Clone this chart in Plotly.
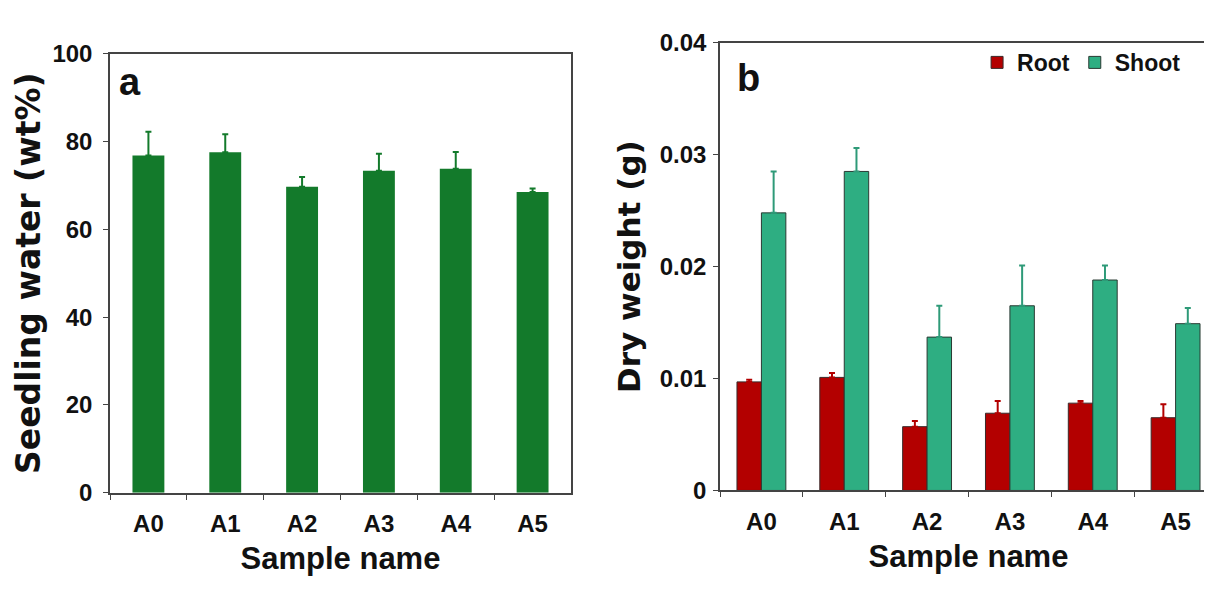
import plotly.graph_objects as go

# ---------------- data ----------------
samples = ["A0", "A1", "A2", "A3", "A4", "A5"]

water_mean = [76.8, 77.5, 69.7, 73.3, 73.8, 68.5]
water_err = [5.4, 4.1, 2.2, 3.9, 3.8, 0.8]

root_mean = [0.0097, 0.0101, 0.0057, 0.0069, 0.0078, 0.0065]
root_err = [0.0002, 0.0004, 0.0005, 0.0011, 0.0002, 0.0012]

shoot_mean = [0.0248, 0.0285, 0.0137, 0.0165, 0.0188, 0.0149]
shoot_err = [0.0037, 0.0021, 0.0028, 0.0036, 0.0013, 0.0014]

W, H = 1212, 601

def xd(a, b):
    return [a / W, b / W]

def yd(top, bottom):
    return [(H - bottom) / H, (H - top) / H]

TICKFONT = dict(family="Liberation Sans, Arial", size=24, color="#111", weight="bold")
XTITLEFONT = dict(family="Liberation Sans, Arial", size=31, color="#111", weight="bold")
YTITLEFONT_A = dict(family="DejaVu Sans", size=33, color="#111", weight="bold")
YTITLEFONT_B = dict(family="DejaVu Sans", size=31, color="#111", weight="bold")

fig = go.Figure()

fig.add_trace(go.Bar(
    x=samples, y=water_mean, width=0.415, xaxis="x", yaxis="y",
    marker=dict(color="#137a2b", line=dict(width=0)),
    error_y=dict(type="data", symmetric=False, array=water_err,
                 arrayminus=[0] * len(water_err), color="#137a2b", thickness=2, width=3),
    showlegend=False,
))

fig.add_trace(go.Bar(
    x=samples, y=root_mean, width=0.295, offset=-0.295, xaxis="x2", yaxis="y2",
    name="Root",
    marker=dict(color="#b30000", line=dict(width=1, color="#3a2a2a")),
    error_y=dict(type="data", symmetric=False, array=root_err,
                 arrayminus=[0] * len(root_err), color="#b30000", thickness=2, width=3),
))
fig.add_trace(go.Bar(
    x=samples, y=shoot_mean, width=0.295, offset=0, xaxis="x2", yaxis="y2",
    name="Shoot",
    marker=dict(color="#2eae82", line=dict(width=1, color="#2a3a33")),
    error_y=dict(type="data", symmetric=False, array=shoot_err,
                 arrayminus=[0] * len(shoot_err), color="#2e9a78", thickness=2, width=3),
))

axis_common = dict(showline=True, linecolor="#444", linewidth=1.5, mirror=True,
                   showgrid=False, zeroline=False, ticks="outside", ticklen=5,
                   tickcolor="#444", tickfont=TICKFONT)

fig.update_layout(
    width=W, height=H,
    margin=dict(l=0, r=0, t=0, b=0),
    paper_bgcolor="white", plot_bgcolor="white",
    barmode="overlay",
    xaxis=dict(domain=xd(102, 563), anchor="y", tickson="boundaries",
               ticklabelstandoff=9,
               title=dict(text="Sample name", font=XTITLEFONT, standoff=11),
               **axis_common),
    yaxis=dict(domain=yd(33, 493), anchor="x", range=[0, 100], dtick=20,
               ticklabelstandoff=6,
               title=dict(text="Seedling water (wt%)", font=YTITLEFONT_A, standoff=2),
               **axis_common),
    xaxis2=dict(domain=xd(712, 1209), anchor="y2", tickson="boundaries",
                ticklabelstandoff=9,
                title=dict(text="Sample name", font=XTITLEFONT, standoff=11),
                **axis_common),
    yaxis2=dict(domain=yd(21.7, 490.5), anchor="x2", range=[0, 0.04], dtick=0.01,
                ticklabelstandoff=2,
                title=dict(text="Dry weight (g)", font=YTITLEFONT_B, standoff=10),
                **axis_common),
    legend=dict(orientation="h", x=0.972, xanchor="right", y=0.967, yanchor="top",
                bgcolor="rgba(0,0,0,0)",
                font=dict(family="Liberation Sans, Arial", size=23, color="#111",
                          weight="bold"),
                itemwidth=30, tracegroupgap=0),
    annotations=[
        dict(text="a", x=0.0, xref="x domain", y=1.0, yref="y domain", xanchor="left",
             yanchor="top", xshift=7, yshift=-5, showarrow=False,
             font=dict(family="Liberation Sans, Arial", size=38, color="#111", weight="bold")),
        dict(text="b", x=0.0, xref="x2 domain", y=1.0, yref="y2 domain", xanchor="left",
             yanchor="top", xshift=15, yshift=-12, showarrow=False,
             font=dict(family="Liberation Sans, Arial", size=38, color="#111", weight="bold")),
    ],
)

fig.write_html("out.html")
